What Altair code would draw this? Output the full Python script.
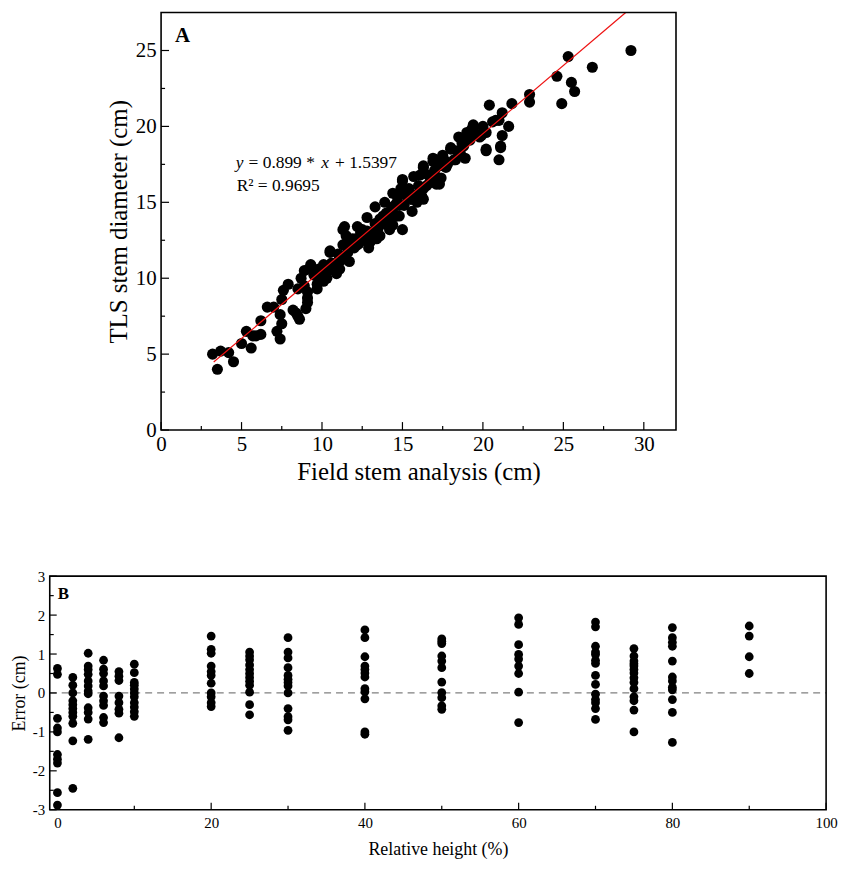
import altair as alt
import pandas as pd

# ---------------- Panel A data (Field stem analysis vs TLS stem diameter, cm) ----------------
field_cm = [
    3.2, 3.5, 3.7, 4.2, 4.5, 5.0, 5.3, 5.6, 5.7, 5.9,
    6.2, 6.2, 6.6, 7.0, 7.2, 7.4, 7.4, 7.5, 7.5, 7.6,
    7.9, 8.2, 8.4, 8.5, 8.5, 8.6, 8.7, 8.9, 8.9, 9.0,
    9.1, 9.1, 9.1, 9.2, 9.3, 9.7, 9.7, 9.9, 10.1, 10.1,
    10.3, 10.5, 10.5, 11.1, 11.1, 11.3, 11.3, 11.4, 11.4, 11.5,
    11.7, 12.2, 12.2, 12.5, 12.8, 13.0, 13.0, 13.2, 13.3, 13.6,
    13.8, 14.2, 14.4, 14.4, 14.6, 14.8, 14.8, 14.8, 15.0, 15.0,
    15.0, 15.5, 15.6, 15.6, 16.1, 16.3, 16.3, 16.3, 16.3, 16.7,
    16.9, 17.1, 17.1, 17.1, 17.2, 17.3, 17.5, 18.0, 18.0, 18.3,
    18.7, 19.0, 19.0, 19.4, 19.4, 20.2, 20.2, 20.2, 20.4, 20.8,
    21.0, 21.0, 21.1, 21.1, 21.2, 21.2, 21.6, 21.8, 22.9, 22.9,
    24.6, 24.9, 25.3, 25.5, 25.7, 26.8, 29.2,
    9.5, 9.8, 10.0, 10.2, 10.4, 10.6, 10.8, 11.0, 11.2, 11.6,
    11.8, 12.0, 12.1, 12.3, 12.6, 12.8, 13.1, 13.3, 13.5, 13.6,
    13.9, 14.0, 14.1, 14.3, 14.5, 14.6, 15.1, 15.3, 15.5, 15.8,
    16.0, 16.1, 16.5, 16.6, 16.8, 17.0, 17.3, 17.6, 17.8, 18.2,
    18.4, 18.6, 18.8, 19.2, 19.6, 19.8, 20.0, 20.6, 12.2, 13.9,
    14.9, 15.7, 16.9, 18.5, 19.3, 12.9, 14.4, 15.9, 17.4, 18.9,
    10.9, 13.4, 16.2, 11.9, 14.7, 17.7, 19.9, 15.4, 12.4, 13.7,
]
tls_cm = [
    5.0, 4.0, 5.2, 5.1, 4.5, 5.7, 6.5, 5.4, 6.2, 6.2,
    6.3, 7.2, 8.1, 8.1, 6.5, 6.0, 7.6, 7.0, 8.6, 9.2,
    9.6, 7.9, 7.7, 7.5, 9.3, 7.3, 10.0, 9.5, 10.5, 8.0,
    8.4, 8.7, 9.1, 10.6, 10.9, 9.3, 9.6, 10.1, 9.8, 10.9,
    10.0, 11.7, 11.8, 10.6, 11.4, 12.2, 13.2, 11.4, 13.4, 12.8,
    11.1, 12.2, 12.4, 13.2, 14.0, 12.4, 12.5, 13.0, 14.7, 12.8,
    14.1, 13.2, 14.7, 15.6, 14.1, 14.1, 14.8, 15.6, 13.2, 16.4,
    16.5, 15.4, 14.4, 15.2, 16.8, 15.2, 15.9, 17.3, 17.4, 16.3,
    17.7, 16.2, 16.5, 17.8, 16.3, 16.2, 18.1, 18.5, 18.6, 17.8,
    18.9, 19.3, 19.6, 20.0, 20.1, 18.4, 18.5, 19.6, 21.4, 20.4,
    17.8, 20.4, 18.6, 18.7, 19.4, 20.9, 20.0, 21.5, 21.6, 22.1,
    23.3, 21.5, 24.6, 22.9, 22.3, 23.9, 25.0,
    10.2, 10.6, 10.3, 10.8, 10.5, 11.0, 10.9, 11.6, 11.2, 11.7,
    12.3, 12.0, 12.6, 12.3, 12.5, 13.1, 12.9, 13.6, 13.3, 13.9,
    13.6, 14.3, 13.9, 14.5, 14.2, 14.9, 14.8, 15.4, 15.2, 15.5,
    16.1, 15.7, 16.1, 16.8, 16.5, 17.1, 17.4, 17.8, 17.5, 17.8,
    18.4, 18.2, 18.7, 19.1, 19.5, 19.3, 20.0, 20.3, 13.4, 15.0,
    15.9, 16.7, 17.9, 19.3, 19.8, 12.0, 13.5, 15.0, 16.6, 17.9,
    10.3, 12.6, 15.4, 12.6, 15.3, 17.3, 19.4, 15.9, 13.0, 13.8,
]
fit_slope = 0.899
fit_intercept = 1.5397
fit_x_start = 3.27

# ---------------- Panel B data (error by relative height) ----------------
rel_heights = [0, 2, 4, 6, 8, 10, 20, 25, 30, 40, 50, 60, 70, 75, 80, 90]
errors_by_height = [
    [0.63, 0.48, -0.65, -0.9, -1.0, -1.58, -1.7, -1.8, -2.56, -2.88],
    [0.4, 0.2, 0.0, -0.2, -0.3, -0.4, -0.5, -0.6, -0.78, -1.23, -2.45],
    [1.02, 0.69, 0.6, 0.48, 0.31, 0.18, 0.05, -0.02, -0.38, -0.5, -0.67, -1.19],
    [0.84, 0.61, 0.5, 0.31, 0.18, -0.08, -0.2, -0.32, -0.63, -0.76],
    [0.55, 0.43, 0.32, -0.08, -0.25, -0.42, -0.52, -1.15],
    [0.74, 0.52, 0.27, 0.2, 0.1, 0.0, -0.1, -0.25, -0.36, -0.48, -0.6],
    [1.46, 1.12, 1.02, 0.69, 0.55, 0.45, 0.25, 0.0, -0.1, -0.25, -0.35],
    [1.05, 0.95, 0.85, 0.72, 0.6, 0.5, 0.4, 0.3, 0.2, 0.02, -0.3, -0.56],
    [1.42, 1.05, 0.9, 0.65, 0.45, 0.35, 0.27, 0.18, 0.0, -0.4, -0.61, -0.69, -0.96],
    [1.62, 1.42, 0.93, 0.69, 0.6, 0.51, 0.41, 0.11, 0.03, -0.15, -1.0, -1.06],
    [1.39, 1.33, 1.27, 0.95, 0.82, 0.65, 0.28, 0.01, -0.12, -0.33, -0.42],
    [1.93, 1.76, 1.24, 0.99, 0.87, 0.69, 0.5, 0.02, -0.76],
    [1.82, 1.7, 1.2, 1.05, 0.99, 0.84, 0.76, 0.45, 0.22, -0.03, -0.17, -0.25, -0.4, -0.68],
    [1.14, 0.95, 0.82, 0.75, 0.69, 0.6, 0.51, 0.39, 0.27, 0.11, -0.1, -0.2, -0.44, -1.0],
    [1.68, 1.42, 1.3, 1.2, 0.82, 0.41, 0.31, 0.15, 0.08, -0.17, -0.5, -1.27],
    [1.72, 1.46, 0.93, 0.5],
]

# axis domains and tick values
a_x_domain = [0, 32]
a_y_domain = [0, 27.5]
b_x_domain = [-1, 100]
b_y_domain = [-3, 3]
a_x_major = [0, 5, 10, 15, 20, 25, 30]
a_x_minor = [2.5, 7.5, 12.5, 17.5, 22.5, 27.5]
a_y_major = [0, 5, 10, 15, 20, 25]
a_y_minor = [2.5, 7.5, 12.5, 17.5, 22.5]
b_x_major = [0, 20, 40, 60, 80, 100]
b_x_minor = [10, 30, 50, 70, 90]
b_y_major = [-3, -2, -1, 0, 1, 2, 3]
b_y_minor = [-2.5, -1.5, -0.5, 0.5, 1.5, 2.5]

FONT = "Liberation Serif"
WA, HA = 518, 420
WB, HB = 781, 235
SPACER_W = 57

dfA = pd.DataFrame({"x": field_cm, "y": tls_cm})
# regression line drawn from its first x to where it leaves the top of the plot
fit_x_end = (a_y_domain[1] - fit_intercept) / fit_slope
fit_x = [fit_x_start, fit_x_end]
dfFit = pd.DataFrame({"x": fit_x, "y": [fit_slope * v + fit_intercept for v in fit_x]})
rows = []
for h, errs in zip(rel_heights, errors_by_height):
    for e in errs:
        rows.append({"h": h, "e": e})
dfB = pd.DataFrame(rows)
one = pd.DataFrame({"k": [0]})

xA = alt.Scale(domain=a_x_domain, nice=False, zero=False)
yA = alt.Scale(domain=a_y_domain, nice=False, zero=False)
xB = alt.Scale(domain=b_x_domain, nice=False, zero=False)
yB = alt.Scale(domain=b_y_domain, nice=False, zero=False)

axA_x = alt.Axis(values=a_x_major, ticks=False, domain=False, grid=False, labelFlush=False,
                 labelFontSize=21, titleFontSize=25, labelPadding=4, titlePadding=5,
                 title="Field stem analysis (cm)")
axA_y = alt.Axis(values=a_y_major, ticks=False, domain=False, grid=False, labelFlush=False,
                 labelFontSize=21, titleFontSize=25, labelPadding=5, titlePadding=4,
                 title="TLS stem diameter (cm)")
axB_x = alt.Axis(values=b_x_major, ticks=False, domain=False, grid=False, labelFlush=False,
                 labelFontSize=15, titleFontSize=18, labelPadding=6, titlePadding=10,
                 title="Relative height (%)")
axB_y = alt.Axis(values=b_y_major, ticks=False, domain=False, grid=False, labelFlush=False,
                 labelFontSize=15, titleFontSize=18, labelPadding=5, titlePadding=4,
                 labelExpr="'' + datum.value", title="Error (cm)")


def xticks(vals, scale, axis, h, length):
    return alt.Chart(pd.DataFrame({"v": vals})).mark_rule(color="black", strokeWidth=1.2).encode(
        x=alt.X("v:Q", scale=scale, axis=axis), y=alt.value(h), y2=alt.value(h - length))


def yticks(vals, scale, axis, length):
    return alt.Chart(pd.DataFrame({"v": vals})).mark_rule(color="black", strokeWidth=1.2).encode(
        y=alt.Y("v:Q", scale=scale, axis=axis), x=alt.value(0), x2=alt.value(length))


def frame(w, h):
    return alt.Chart(one).mark_rect(fillOpacity=0, stroke="black", strokeWidth=1.6).encode(
        x=alt.value(0), x2=alt.value(w), y=alt.value(0), y2=alt.value(h))


def label(txt, x, y, size, weight="normal", style="normal"):
    return alt.Chart(one).mark_text(text=txt, font=FONT, fontSize=size, fontWeight=weight,
                                    fontStyle=style, align="left", baseline="middle",
                                    color="black").encode(x=alt.value(x), y=alt.value(y))


ptsA = alt.Chart(dfA).mark_circle(size=125, color="black", opacity=1).encode(
    x=alt.X("x:Q", scale=xA, axis=axA_x), y=alt.Y("y:Q", scale=yA, axis=axA_y))
fitA = alt.Chart(dfFit).mark_line(color="#ee1111", strokeWidth=1.2, clip=True).encode(
    x=alt.X("x:Q", scale=xA, axis=axA_x), y=alt.Y("y:Q", scale=yA, axis=axA_y))

panelA = alt.layer(
    ptsA, fitA,
    xticks(a_x_major, xA, axA_x, HA, 8), xticks(a_x_minor, xA, axA_x, HA, 4),
    yticks(a_y_major, yA, axA_y, 8), yticks(a_y_minor, yA, axA_y, 4),
    frame(WA, HA),
    label("A", 14, 24, 21, weight="bold"),
    label("y", 75, 151, 17.5, style="italic"),
    label("= 0.899 *", 88, 151, 17.5),
    label("x", 161, 151, 17.5, style="italic"),
    label("+ 1.5397", 175, 151, 17.5),
    label("R² = 0.9695", 76, 175, 17.5),
).properties(width=WA, height=HA)

ptsB = alt.Chart(dfB).mark_circle(size=78, color="black", opacity=1).encode(
    x=alt.X("h:Q", scale=xB, axis=axB_x), y=alt.Y("e:Q", scale=yB, axis=axB_y))
zeroB = alt.Chart(pd.DataFrame({"z": [0]})).mark_rule(color="#808080", strokeDash=[7, 5], strokeWidth=1.3).encode(
    y=alt.Y("z:Q", scale=yB, axis=axB_y), x=alt.value(0), x2=alt.value(WB))

panelB = alt.layer(
    zeroB, ptsB,
    xticks(b_x_major, xB, axB_x, HB, 7), xticks(b_x_minor, xB, axB_x, HB, 4),
    yticks(b_y_major, yB, axB_y, 7), yticks(b_y_minor, yB, axB_y, 4),
    frame(WB, HB),
    label("B", 8, 18, 17, weight="bold"),
).properties(width=WB, height=HB)

spacer = alt.Chart(one).mark_point(opacity=0, size=1).encode(
    x=alt.value(5), y=alt.value(200)).properties(width=SPACER_W, height=HA)

rowA = alt.hconcat(spacer, panelA, spacing=0)

chart = alt.vconcat(rowA, panelB, spacing=85).properties(
    padding={"left": 2, "top": 1, "right": 5, "bottom": 5}
).configure_view(strokeOpacity=0).configure_axis(
    labelFont=FONT, titleFont=FONT, labelColor="black", titleColor="black",
    titleFontWeight="normal"
)

chart.save("out.html", embed_options={"renderer": "svg", "actions": False})
